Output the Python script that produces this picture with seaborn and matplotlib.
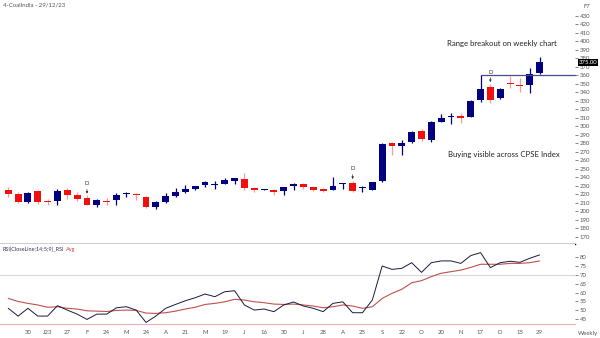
import matplotlib
matplotlib.use("Agg")
import matplotlib.pyplot as plt
import matplotlib.transforms as mtransforms
import numpy as np
import pandas as pd
import seaborn as sns

# Weekly OHLC, 16 Dec 2022 .. 29 Dec 2023
opens = [224.4, 220.5, 210.8, 223.2, 211.2, 212.3, 225.2, 219.4, 215.5, 207.6,
         211.8, 213.5, 219.9, 220.5, 217.0, 205.0, 210.3, 218.2, 222.1, 226.4,
         230.3, 230.3, 232.3, 236.0, 237.8, 227.2, 225.2, 225.2, 223.2, 229.1,
         231.9, 227.9, 226.0, 225.2, 231.6, 233.0, 227.0, 225.2, 235.0, 280.0,
         277.0, 282.0, 294.9, 284.0, 305.5, 311.0, 312.5, 311.4, 331.0, 345.9,
         333.0, 350.3, 348.6, 348.6, 363.1]
highs = [229.0, 222.5, 222.1, 224.4, 214.3, 225.7, 227.6, 222.5, 218.5, 214.3,
         215.5, 221.7, 222.5, 221.7, 217.5, 211.5, 221.3, 226.8, 230.7, 230.0,
         235.0, 235.0, 238.6, 239.5, 245.3, 228.5, 226.0, 226.0, 229.0, 233.5,
         233.0, 228.7, 227.5, 239.7, 232.8, 235.8, 230.0, 234.5, 280.0, 282.0,
         283.5, 294.7, 296.5, 306.7, 314.0, 315.4, 315.4, 331.0, 360.0, 349.8,
         344.5, 359.5, 357.0, 369.0, 381.2]
lows = [217.0, 209.6, 209.6, 208.0, 207.6, 206.8, 213.8, 211.9, 206.8, 204.7,
        206.8, 206.8, 217.0, 212.7, 203.5, 203.0, 209.5, 216.6, 221.3, 225.5,
        229.0, 226.0, 231.5, 232.0, 225.2, 223.0, 224.5, 219.5, 219.0, 224.4,
        226.5, 223.5, 222.0, 225.0, 226.5, 222.9, 222.0, 225.0, 234.5, 266.5,
        266.0, 280.0, 282.5, 281.6, 305.0, 302.4, 304.0, 310.5, 328.6, 327.0,
        332.5, 345.0, 340.0, 339.6, 361.5]
closes = [220.5, 210.8, 221.3, 210.3, 210.6, 223.2, 218.5, 214.7, 207.6, 213.5,
          211.2, 219.4, 220.4, 218.5, 204.6, 210.8, 218.2, 222.5, 226.4, 229.6,
          234.3, 231.9, 237.0, 239.0, 227.2, 224.4, 225.5, 222.1, 227.9, 231.9,
          227.9, 225.2, 223.2, 229.9, 232.0, 224.0, 227.4, 233.8, 279.3, 277.0,
          280.0, 293.0, 285.2, 305.5, 310.2, 311.6, 310.2, 330.2, 343.5, 331.0,
          344.0, 349.6, 347.4, 361.5, 375.0]

# RSI(14) and its 9-period average
rsi = [51.1, 46.7, 51.1, 46.7, 46.7, 52.6, 50.1, 47.8, 44.8, 47.8,
       47.8, 51.4, 52.0, 50.1, 43.1, 46.7, 51.1, 53.3, 55.4, 57.1,
       59.2, 57.7, 60.5, 61.1, 53.0, 50.1, 50.7, 49.2, 53.0, 54.7,
       52.4, 51.1, 49.2, 53.9, 54.8, 48.6, 48.6, 55.8, 75.1, 73.2,
       73.8, 77.0, 71.5, 77.0, 78.0, 78.0, 76.6, 81.0, 82.7, 74.2,
       77.0, 77.8, 77.2, 79.5, 81.4]
rsi_avg = [56.7, 55.0, 53.9, 53.0, 51.7, 52.0, 51.1, 50.7, 49.7, 49.5,
           49.3, 49.9, 50.1, 49.9, 48.4, 48.2, 48.6, 49.5, 50.7, 51.7,
           53.3, 53.9, 54.8, 56.2, 55.8, 54.8, 54.3, 53.5, 53.3, 53.5,
           53.0, 52.4, 51.4, 52.0, 53.0, 52.4, 51.1, 52.0, 56.7, 59.6,
           61.9, 65.6, 66.8, 69.1, 71.0, 71.9, 72.8, 74.3, 76.1, 76.1,
           76.1, 76.6, 76.6, 77.0, 78.0]

date_labels = ["30", "J23", "27", "F", "24", "M", "24", "A", "21", "M", "19", "J",
               "16", "30", "J", "28", "A", "25", "S", "22", "O", "20", "N", "17",
               "D", "15", "29"]

price_ticks = list(range(170, 440, 10))
rsi_ticks = [45, 50, 55, 60, 65, 70, 75, 80]
breakout_level = 360.0
dividend_weeks = [8, 35, 49]

UP = "#000080"
DOWN = "#f01010"
DOWN_WICK = "#f39a9a"
GREY = "#555555"

sns.set_style("white")
plt.rcParams["font.family"] = ["Lato", "DejaVu Sans"]

fig = plt.figure(figsize=(6, 3.38), dpi=100)
W, H = 600.0, 338.0
ax = fig.add_axes([0, (H - 244) / H, 575 / W, 244 / H])
ax_r = fig.add_axes([0, (H - 324) / H, 575 / W, 80 / H])

n = len(closes)
idx = np.arange(n)
xlim = (-0.84, 57.6)

df = pd.DataFrame({"week": idx, "open": opens, "high": highs, "low": lows,
                   "close": closes, "rsi": rsi, "avg": rsi_avg})
df["up"] = df["close"] >= df["open"]
df["bottom"] = df[["open", "close"]].min(axis=1)
df["height"] = (df["close"] - df["open"]).abs().clip(lower=1.0)

# candles: wicks first, bodies on top
for up, g in df.groupby("up"):
    ax.vlines(g["week"], g["low"], g["high"], color=UP if up else DOWN_WICK,
              lw=0.9, zorder=2)
    ax.bar(g["week"], g["height"], bottom=g["bottom"], width=0.7,
           color=UP if up else DOWN, edgecolor="none", zorder=3)

ax.set_xlim(*xlim)
ax.set_ylim(161.4, 448.5)
ax.yaxis.tick_right()
ax.set_yticks(price_ticks)
ax.tick_params(axis="y", labelsize=4.3, colors=GREY, length=2, width=0.5, pad=1.5)
ax.set_xticks([])
for s in ["top", "left", "right"]:
    ax.spines[s].set_visible(False)
ax.spines["bottom"].set_color("black")
ax.spines["bottom"].set_linewidth(1.0)

# breakout line from the week of the range high
ax.plot([48, xlim[1]], [breakout_level, breakout_level], color="#4a4a90",
        lw=0.9, zorder=4, clip_on=False)

# dividend markers
for w in dividend_weeks:
    top = highs[w]
    ax.annotate("D", xy=(w, top + 2), xytext=(w, top + 11), ha="center",
                va="bottom", fontsize=4.3, color="#333333",
                arrowprops=dict(arrowstyle="-|>", lw=0.5, color="#333333",
                                mutation_scale=3, shrinkA=0, shrinkB=0))

# last price tag
tr = mtransforms.blended_transform_factory(ax.transAxes, ax.transData)
ax.text(1.006, closes[-1], f"{closes[-1]:.2f}", transform=tr, fontsize=4.3,
        color="white", va="center", ha="left", zorder=6,
        bbox=dict(boxstyle="square,pad=0.15", fc="black", ec="none"))

ax.text(0.777, 0.82, "Range breakout on weekly chart", transform=ax.transAxes,
        fontsize=5.6, color="#222222", ha="left", va="center")
ax.text(0.779, 0.365, "Buying visible across CPSE Index", transform=ax.transAxes,
        fontsize=5.6, color="#222222", ha="left", va="center")

# RSI panel
ax_r.axhline(70, color="#d8d8d8", lw=0.8, zorder=1)
sns.lineplot(data=df, x="week", y="avg", ax=ax_r, color="#c0504d", lw=0.8,
             zorder=2)
sns.lineplot(data=df, x="week", y="rsi", ax=ax_r, color="#1a1a40", lw=0.7,
             zorder=3)
ax_r.set_xlim(*xlim)
ax_r.set_ylim(42.2, 87.6)
ax_r.set_xlabel("")
ax_r.set_ylabel("")
ax_r.yaxis.tick_right()
ax_r.set_yticks(rsi_ticks)
ax_r.tick_params(axis="y", labelsize=4.3, colors=GREY, length=2, width=0.5, pad=1.5)
ax_r.set_xticks(idx[2::2])
ax_r.set_xticklabels(date_labels)
ax_r.tick_params(axis="x", labelsize=4.3, colors=GREY, length=1.5, width=0.5,
                 pad=3, color="#e8a0a0")
for s in ["top", "left", "right"]:
    ax_r.spines[s].set_visible(False)
ax_r.spines["bottom"].set_color("#eab0b0")
ax_r.spines["bottom"].set_linewidth(0.8)

rsi_title = ax_r.text(0.004, 0.93, "RSI(CloseLine;14;5;9)_RSI",
                      transform=ax_r.transAxes, fontsize=4.0, color="#333355",
                      ha="left", va="center")
ax_r.annotate("Avg", xy=(1, 0.5), xycoords=rsi_title, xytext=(1.5, 0),
              textcoords="offset points", fontsize=4.0, color="#d04040",
              ha="left", va="center")

fig.text(3 / W, 1 - 5 / H, "4-CoalIndia - 29/12/23", fontsize=4.3, color=GREY,
         ha="left", va="center")
fig.text(583 / W, 1 - 7 / H, "F7", fontsize=4.3, color=GREY, ha="left",
         va="center")
fig.text(578 / W, 1 - 333 / H, "Weekly", fontsize=4.3, color=GREY, ha="left",
         va="center")

fig.savefig("out.png", dpi=100)
